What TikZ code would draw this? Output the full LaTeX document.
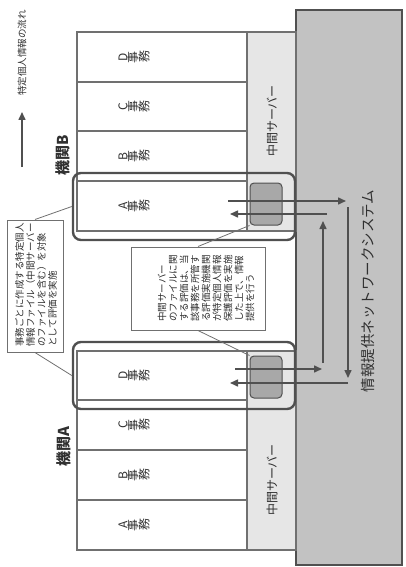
\documentclass[tikz,border=0pt]{standalone}
\usepackage{fontspec}
\usepackage{graphicx}
\setmainfont{Noto Sans CJK JP}
\usetikzlibrary{arrows.meta}
\definecolor{netfill}{HTML}{C2C2C2}
\definecolor{srvfill}{HTML}{E6E6E6}
\definecolor{devfill}{HTML}{A8A8A8}
\definecolor{lncol}{HTML}{707070}
\definecolor{dk}{HTML}{505050}
\definecolor{txt}{HTML}{303030}
\newcommand{\rg}[1]{\rotatebox[origin=c]{90}{#1}}
\newcommand{\jimu}[1]{\rg{#1}\rg{事}\rg{務}}
\tikzset{
  cellline/.style={draw=lncol, line width=1.2pt},
  rbox/.style={draw=dk, line width=2.4pt, rounded corners=8pt, minimum width=222pt, minimum height=67pt, inner sep=0pt},
  devbox/.style={draw=dk, line width=1pt, fill=devfill, rounded corners=4pt, minimum width=32pt, minimum height=42pt, inner sep=0pt},
  celltxt/.style={font=\fontsize{12}{14}\selectfont, inner sep=0pt, text=txt},
  srvtxt/.style={rotate=90, font=\fontsize{12}{14}\selectfont, inner sep=0pt, text=txt},
  agtxt/.style={rotate=90, font=\bfseries\fontsize{15}{17}\selectfont, inner sep=0pt, text=txt},
  callbox/.style={draw=lncol, line width=1pt, fill=white, inner sep=0pt},
  calltxt/.style={rotate=90, font=\fontsize{9.5}{11}\selectfont, align=left, text=txt, inner sep=0pt},
  flow/.style={draw=dk, line width=1.5pt, -{Triangle[length=8pt,width=7pt]}},
  leader/.style={draw=lncol, line width=0.8pt}
}
\begin{document}
\begin{tikzpicture}[x=1pt,y=-1pt]
\useasboundingbox (0,0) rectangle (406,567);
% network system
\draw[draw=dk, line width=1.5pt, fill=netfill] (296,10) rectangle (402,565);
\node[rotate=90, font=\fontsize{14.5}{16}\selectfont, inner sep=0pt, text=txt] (net) at (368,291) {情報提供ネットワークシステム};
% agency B (top)
\fill[srvfill] (247,32) rectangle (296,231);
\draw[cellline] (77,32) rectangle (296,231);
\draw[cellline] (247,32) -- (247,231);
\foreach \yy in {82,131,181} \draw[cellline] (77,\yy) -- (247,\yy);
\node[celltxt] (bD) at (134,57) {\jimu{D}};
\node[celltxt] (bC) at (134,106.5) {\jimu{C}};
\node[celltxt] (bB) at (134,156) {\jimu{B}};
\node[celltxt] (bA) at (134,206) {\jimu{A}};
\node[srvtxt] (bsrv) at (272,121) {中間サーバー};
% agency A (bottom)
\fill[srvfill] (247,351) rectangle (296,550);
\draw[cellline] (77,351) rectangle (296,550);
\draw[cellline] (247,351) -- (247,550);
\foreach \yy in {400,450,500} \draw[cellline] (77,\yy) -- (247,\yy);
\node[celltxt] (aD) at (134,375.5) {\jimu{D}};
\node[celltxt] (aC) at (134,425) {\jimu{C}};
\node[celltxt] (aB) at (134,475) {\jimu{B}};
\node[celltxt] (aA) at (134,525) {\jimu{A}};
\node[srvtxt] (asrv) at (272,480) {中間サーバー};
% rounded boxes and devices
\node[rbox] (rbB) at (184,206.5) {};
\node[rbox] (rbA) at (184,375.5) {};
\node[devbox] (devB) at (266,204) {};
\node[devbox] (devA) at (266,377) {};
% agency labels
\node[agtxt] (labB) at (63,155) {機関B};
\node[agtxt] (labA) at (64,447) {機関A};
% flows
\coordinate (f1s) at (228,201); \coordinate (f1e) at (346,201);
\coordinate (f2s) at (327,214); \coordinate (f2e) at (230,214);
\coordinate (f3s) at (348,207); \coordinate (f3e) at (348,378);
\coordinate (f4s) at (323,363); \coordinate (f4e) at (323,221);
\coordinate (f5s) at (235,369); \coordinate (f5e) at (322,369);
\coordinate (f6s) at (348,383); \coordinate (f6e) at (230,383);
\draw[flow] (f1s) -- (f1e);
\draw[flow] (f2s) -- (f2e);
\draw[flow] (f3s) -- (f3e);
\draw[flow] (f4s) -- (f4e);
\draw[flow] (f5s) -- (f5e);
\draw[flow] (f6s) -- (f6e);
% callouts
\node[callbox, minimum width=56pt, minimum height=132pt] (lcb) at (35,286) {};
\node[calltxt] (lc) at (36,285) {事務ごとに作成する特定個人\\情報ファイル（中間サーバー\\のファイルを含む）を対象\\として評価を実施};
\node[callbox, minimum width=134pt, minimum height=83pt] (mcb) at (198,288.5) {};
\node[calltxt] (mc) at (206,288.5) {中間サーバー\\のファイルに関\\する評価は、当\\該事務を所管す\\る評価実施機関\\が特定個人情報\\保護評価を実施\\した上で、情報\\提供を行う};
\draw[leader] (lcb.north) -- (rbB.west);
\draw[leader] (lcb.south) -- (rbA.west);
\draw[leader] (mcb.north) -- (devB.south west);
\draw[leader] (mcb.south) -- (devA.north west);
% legend
\coordinate (lgs) at (22,167); \coordinate (lge) at (22,112);
\draw[flow] (lgs) -- (lge);
\node[rotate=90, font=\fontsize{9.5}{11}\selectfont, inner sep=0pt, text=txt] (lgt) at (22,53) {特定個人情報の流れ};
\end{tikzpicture}
\end{document}
